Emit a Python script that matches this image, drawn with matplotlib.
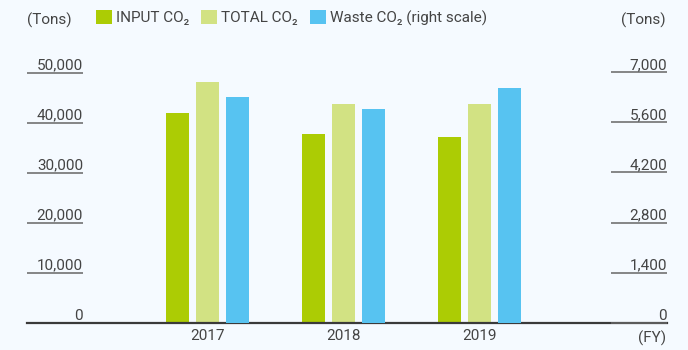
import numpy as np
import matplotlib
matplotlib.use("Agg")
from matplotlib import pyplot as plt

plt.rcParams['font.family'] = ['Roboto', 'DejaVu Sans']

years = ['2017', '2018', '2019']
input_co2 = [41900, 37700, 37100]
total_co2 = [48100, 43700, 43700]
waste_co2 = [6310, 5980, 6570]

left_ticks = [0, 10000, 20000, 30000, 40000, 50000]
right_ticks = [0, 1400, 2800, 4200, 5600, 7000]

bg = '#f5faff'
ink = '#444444'
c_input = '#accc04'
c_total = '#d2e283'
c_waste = '#57c3f1'

fig = plt.figure(figsize = (6.88, 3.5), dpi = 100, facecolor = bg)
ax = fig.add_axes([27 / 688, 27.5 / 350, 640 / 688, 250 / 350], facecolor = bg)
ax2 = ax.twinx()

x = np.arange(len(years))
w = 0.17
off = 0.22

b1 = ax.bar(x - off, input_co2, w, color = c_input, label = 'INPUT CO₂')
b2 = ax.bar(x, total_co2, w, color = c_total, label = 'TOTAL CO₂')
b3 = ax2.bar(x + off, waste_co2, w, color = c_waste, label = 'Waste CO₂ (right scale)')

ax.set_xlim(-1.327, 3.379)
ax.set_ylim(0, 50000)
ax2.set_ylim(0, 7000)

for a in (ax, ax2):
    for s in a.spines.values():
        s.set_visible(False)
ax.spines['bottom'].set_visible(True)
ax.spines['bottom'].set_color('#3a3a3a')
ax.spines['bottom'].set_linewidth(1.6)

ax.set_xticks(x, years)
ax.tick_params(axis = 'x', length = 0, pad = 5, labelsize = 11, labelcolor = ink)

# short tick rules under each value, labels sitting on top of them
ax.set_yticks(left_ticks, [f'{v:,}' for v in left_ticks])
ax.tick_params(axis = 'y', direction = 'in', length = 40.3, width = 1.1, color = '#666666',
               pad = -40.3, labelsize = 11, labelcolor = ink)
for lab in ax.get_yticklabels():
    lab.set_va('bottom')

ax2.set_yticks(right_ticks, [f'{v:,}' for v in right_ticks])
ax2.tick_params(axis = 'y', direction = 'in', length = 40.3, width = 1.1, color = '#666666',
                pad = 0, labelsize = 11, labelcolor = ink)
for lab in ax2.get_yticklabels():
    lab.set_va('bottom')
    lab.set_ha('right')

fig.text(27 / 688, 1 - 20 / 350, '(Tons)', fontsize = 11, color = ink, va = 'center', ha = 'left')
fig.text(666 / 688, 1 - 20 / 350, '(Tons)', fontsize = 11, color = ink, va = 'center', ha = 'right')
fig.text(666 / 688, 1 - 338 / 350, '(FY)', fontsize = 11, color = ink, va = 'center', ha = 'right')

fig.legend(handles = [b1, b2, b3], ncol = 3, frameon = False, loc = 'center left',
           bbox_to_anchor = (96 / 688, 1 - 18 / 350), fontsize = 11, labelcolor = ink,
           handlelength = 1.05, handleheight = 0.95, handletextpad = 0.25, columnspacing = 0.8,
           borderaxespad = 0, borderpad = 0)

fig.savefig('out.png', dpi = 100, facecolor = bg)
